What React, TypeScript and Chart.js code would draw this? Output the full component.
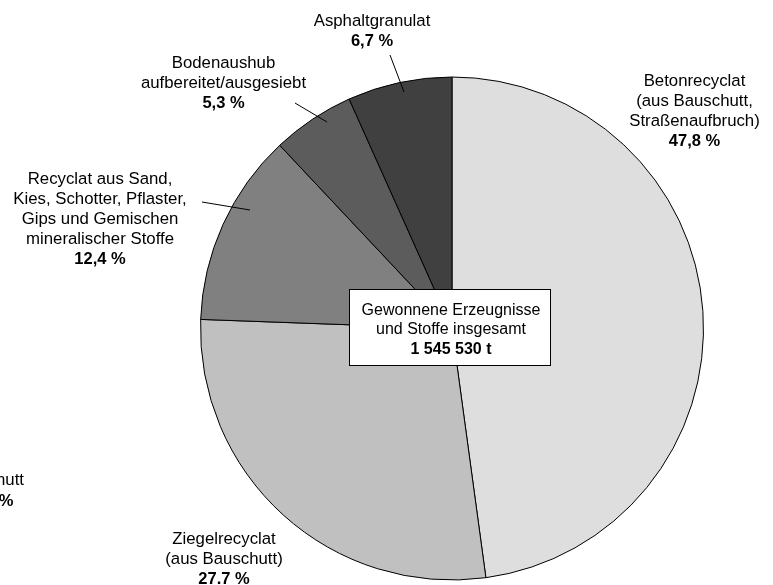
import React, { useEffect, useRef } from "react";
import { Chart, registerables } from "chart.js";

Chart.register(...registerables);

const categories = [
  "Betonrecyclat (aus Bauschutt, Straßenaufbruch)",
  "Ziegelrecyclat (aus Bauschutt)",
  "Recyclat aus Sand, Kies, Schotter, Pflaster, Gips und Gemischen mineralischer Stoffe",
  "Bodenaushub aufbereitet/ausgesiebt",
  "Asphaltgranulat",
];
const shares = [47.8, 27.7, 12.4, 5.3, 6.7];
const sliceColors = ["#dedede", "#c0c0c0", "#808080", "#5c5c5c", "#404040"];

const labelLines: string[][] = [
  ["Betonrecyclat", "(aus Bauschutt,", "Straßenaufbruch)"],
  ["Ziegelrecyclat", "(aus Bauschutt)"],
  ["Recyclat aus Sand,", "Kies, Schotter, Pflaster,", "Gips und Gemischen", "mineralischer Stoffe"],
  ["Bodenaushub", "aufbereitet/ausgesiebt"],
  ["Asphaltgranulat"],
];
const percentLabels = ["47,8 %", "27.7 %", "12,4 %", "5,3 %", "6,7 %"];
const centerLines = ["Gewonnene Erzeugnisse", "und Stoffe insgesamt", "1 545 530 t"];

// label layout (annotation placement)
const labelPos = [
  { x: 694.5, y: 81.5 },
  { x: 224, y: 539 },
  { x: 100, y: 179 },
  { x: 223.5, y: 63.5 },
  { x: 372, y: 21 },
];
const leaders: (number[] | null)[] = [
  null,
  null,
  [202, 202, 250, 210],
  [295, 103, 327, 122],
  [390, 55, 404, 92],
];

const FONT = '"Liberation Sans", Arial, Helvetica, sans-serif';

const labelPlugin = {
  id: "labels",
  afterDraw(chart: any) {
    const ctx = chart.ctx;
    ctx.save();
    ctx.fillStyle = "#000";
    ctx.strokeStyle = "#000";
    ctx.lineWidth = 1;
    ctx.textAlign = "center";
    ctx.textBaseline = "middle";
    const lh = 20;
    labelLines.forEach((lines, i) => {
      const p = labelPos[i];
      ctx.font = "16.8px " + FONT;
      lines.forEach((t, j) => ctx.fillText(t, p.x, p.y + j * lh));
      ctx.font = "bold 16.5px " + FONT;
      ctx.fillText(percentLabels[i], p.x, p.y + lines.length * lh);
      const l = leaders[i];
      if (l) {
        ctx.beginPath();
        ctx.moveTo(l[0], l[1]);
        ctx.lineTo(l[2], l[3]);
        ctx.stroke();
      }
    });
    // partially visible label at left edge
    ctx.textAlign = "right";
    ctx.font = "16.8px " + FONT;
    ctx.fillText("aus Bauschutt", 24, 480);
    ctx.font = "bold 16.5px " + FONT;
    ctx.fillText("0,1 %", 13.5, 501.5);

    // center box
    ctx.fillStyle = "#fff";
    ctx.fillRect(349.5, 289.5, 201, 76);
    ctx.strokeRect(349.5, 289.5, 201, 76);
    ctx.fillStyle = "#000";
    ctx.textAlign = "center";
    ctx.font = "16px " + FONT;
    ctx.fillText(centerLines[0], 451, 311);
    ctx.fillText(centerLines[1], 451, 330);
    ctx.font = "bold 16px " + FONT;
    ctx.fillText(centerLines[2], 451, 350);
    ctx.restore();
  },
};

export default function App() {
  const ref = useRef<HTMLCanvasElement>(null);
  useEffect(() => {
    if (!ref.current) return;
    const chart = new Chart(ref.current, {
      type: "pie",
      data: {
        labels: categories,
        datasets: [
          {
            data: shares,
            backgroundColor: sliceColors,
            borderColor: "#000",
            borderWidth: 1,
          },
        ],
      },
      options: {
        animation: false,
        responsive: false,
        layout: { padding: { left: 200, right: 69, top: 76, bottom: 4 } },
        plugins: {
          legend: { display: false },
          tooltip: { enabled: false },
        },
      },
      plugins: [labelPlugin],
    });
    return () => chart.destroy();
  }, []);
  return (
    <div style={{ position: "absolute", left: 0, top: 0, width: 773, height: 585, background: "#fff" }}>
      <canvas ref={ref} width={773} height={585} style={{ width: 773, height: 585 }} />
    </div>
  );
}
